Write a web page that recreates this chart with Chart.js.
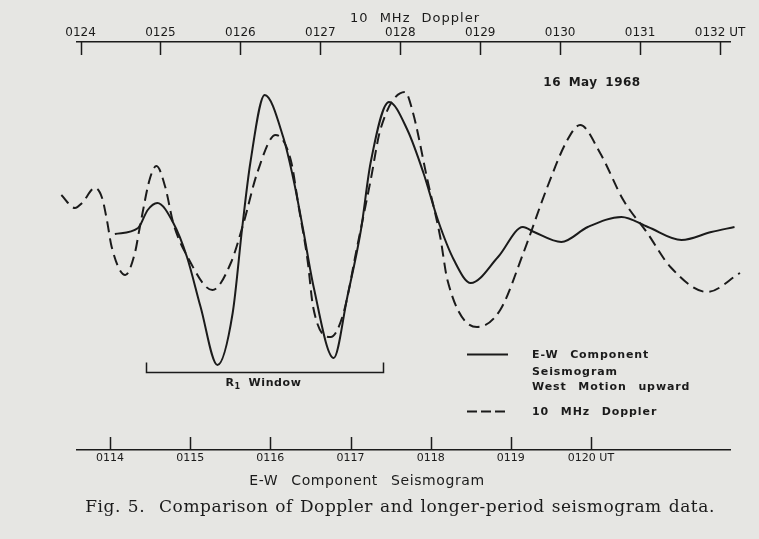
<!DOCTYPE html>
<html><head><meta charset="utf-8">
<script src="https://cdn.jsdelivr.net/npm/chart.js@4/dist/chart.umd.min.js"></script>
<style>
html,body{margin:0;padding:0;background:#e6e6e3;}
#wrap{width:759px;height:539px;position:relative;}
canvas{display:block;}
</style></head><body>
<div id="wrap"><canvas id="c" width="759" height="539"></canvas></div>
<script>
// 10 MHz Doppler — time in minutes after 0100 UT (top axis), relative amplitude
const dopplerTime = [123.76, 123.93, 124.02, 124.18, 124.27, 124.33, 124.39, 124.56, 124.68, 124.74, 124.87, 124.95, 125.06, 125.16, 125.34, 125.65, 125.88, 126.04, 126.21, 126.44, 126.63, 126.73, 126.84, 126.91, 127.13, 127.29, 127.46, 127.63, 127.75, 128.06, 128.16, 128.34, 128.50, 128.59, 128.96, 129.25, 129.54, 129.84, 130.09, 130.25, 130.50, 130.79, 131.09, 131.38, 131.84, 132.25];
const dopplerValue = [4.5, 3.2, 3.7, 5.2, 4.2, 2.0, -0.7, -3.5, -1.3, 1.2, 6.2, 7.4, 5.3, 1.7, -1.7, -5.0, -2.3, 1.7, 6.7, 10.5, 8.0, 3.3, -2.0, -6.7, -9.7, -7.3, -0.7, 6.0, 11.0, 14.8, 12.7, 6.0, 0.3, -4.0, -8.7, -7.0, -1.3, 5.3, 10.0, 11.5, 8.7, 4.0, 0.7, -2.7, -5.2, -3.3];

// E-W component seismogram — time in minutes after 0100 UT (bottom axis), relative amplitude
const seisTime = [114.06, 114.35, 114.47, 114.59, 114.79, 114.96, 115.13, 115.34, 115.53, 115.65, 115.75, 115.93, 116.16, 116.29, 116.41, 116.54, 116.79, 116.96, 117.13, 117.25, 117.48, 117.71, 117.91, 118.09, 118.29, 118.50, 118.84, 119.15, 119.29, 119.63, 119.96, 120.38, 120.71, 121.13, 121.50, 121.79];
const seisValue = [0.6, 1.2, 3.0, 3.7, 1.7, -1.7, -6.7, -12.5, -7.3, 1.3, 7.7, 14.5, 10.3, 6.0, 1.0, -4.7, -11.8, -5.7, 1.0, 7.7, 13.8, 11.0, 6.7, 2.0, -2.0, -4.3, -1.7, 1.3, 0.8, -0.2, 1.3, 2.3, 1.3, 0.0, 0.8, 1.3];

// Axis ticks
const dopplerTicks = [124, 125, 126, 127, 128, 129, 130, 131, 132];
const dopplerTickLabels = ['0124', '0125', '0126', '0127', '0128', '0129', '0130', '0131', '0132 UT'];
const seisTicks = [114, 115, 116, 117, 118, 119, 120];
const seisTickLabels = ['0114', '0115', '0116', '0117', '0118', '0119', '0120 UT'];

// R1 window (seismogram minutes)
const r1Window = [114.45, 117.4];

const INK = '#1b1b1b';
const PAPER = '#e6e6e3';

function txt(ctx, s, x, y, font, ls, ws, align) {
  ctx.save();
  ctx.font = font;
  ctx.fillStyle = INK;
  ctx.textBaseline = 'middle';
  ctx.textAlign = align || 'left';
  try { ctx.letterSpacing = (ls || 0) + 'px'; ctx.wordSpacing = (ws || 0) + 'px'; } catch (e) {}
  ctx.fillText(s, x, y);
  ctx.restore();
}

const paperPlugin = {
  id: 'paper',
  beforeDraw(chart) {
    const ctx = chart.ctx;
    ctx.save();
    ctx.fillStyle = PAPER;
    ctx.fillRect(0, 0, chart.width, chart.height);
    ctx.restore();
  }
};

const decorPlugin = {
  id: 'decor',
  afterDraw(chart) {
    const ctx = chart.ctx;
    const xs = chart.scales.x, xb = chart.scales.x2, y = chart.scales.y;
    ctx.save();
    ctx.strokeStyle = INK;
    ctx.lineWidth = 1.5;
    // inward tick marks, top axis
    xs.ticks.forEach(t => {
      const px = Math.round(xs.getPixelForValue(t.value)) + 0.5;
      ctx.beginPath(); ctx.moveTo(px, xs.bottom); ctx.lineTo(px, xs.bottom + 13); ctx.stroke();
    });
    // inward tick marks, bottom axis
    xb.ticks.forEach(t => {
      const px = Math.round(xb.getPixelForValue(t.value)) + 0.5;
      ctx.beginPath(); ctx.moveTo(px, xb.top); ctx.lineTo(px, xb.top - 13); ctx.stroke();
    });
    ctx.restore();

    // axis titles
    txt(ctx, '10 MHz Doppler', 415, 19, '13px "DejaVu Sans"', 1, 6, 'center');
    txt(ctx, 'E-W Component Seismogram', 367, 481, '14px "DejaVu Sans"', 0.6, 8, 'center');
    txt(ctx, '16 May 1968', 592, 83, 'bold 12px "DejaVu Sans"', 0.5, 3, 'center');

    // R1 window bracket
    const wl = Math.round(xb.getPixelForValue(r1Window[0])) + 0.5;
    const wr = Math.round(xb.getPixelForValue(r1Window[1])) + 0.5;
    const wy = Math.round(y.getPixelForValue(-13.2)) + 0.5;
    ctx.save();
    ctx.strokeStyle = INK; ctx.lineWidth = 1.5;
    ctx.beginPath();
    ctx.moveTo(wl, wy - 10); ctx.lineTo(wl, wy); ctx.lineTo(wr, wy); ctx.lineTo(wr, wy - 10);
    ctx.stroke();
    ctx.restore();
    const wc = xb.getPixelForValue(115.89);
    txt(ctx, 'R', wc - 36, wy + 11, 'bold 11px "DejaVu Sans"', 0, 0, 'left');
    txt(ctx, '1', wc - 27, wy + 14, 'bold 8px "DejaVu Sans"', 0, 0, 'left');
    txt(ctx, 'Window', wc - 13, wy + 11, 'bold 11px "DejaVu Sans"', 0.6, 0, 'left');

    // legend
    const ds = chart.data.datasets;
    ctx.save();
    ctx.strokeStyle = ds[1].borderColor; ctx.lineWidth = 2;
    ctx.beginPath(); ctx.moveTo(467, 354.5); ctx.lineTo(508, 354.5); ctx.stroke();
    ctx.setLineDash([10, 4]);
    ctx.strokeStyle = ds[0].borderColor;
    ctx.beginPath(); ctx.moveTo(467, 411.5); ctx.lineTo(506, 411.5); ctx.stroke();
    ctx.restore();
    const lf = 'bold 11px "DejaVu Sans"';
    txt(ctx, 'E-W Component', 532, 355, lf, 0.9, 7, 'left');
    txt(ctx, 'Seismogram', 532, 372, lf, 0.9, 7, 'left');
    txt(ctx, 'West Motion upward', 532, 387, lf, 0.9, 7, 'left');
    txt(ctx, '10 MHz Doppler', 532, 412, lf, 0.9, 7, 'left');

    // figure caption
    txt(ctx, 'Fig. 5.  Comparison of Doppler and longer-period seismogram data.', 400, 508,
        '17px "DejaVu Serif"', 0.55, 1, 'center');
  }
};

const doppler = dopplerTime.map((t, i) => ({ x: t, y: dopplerValue[i] }));
const seis = seisTime.map((t, i) => ({ x: t, y: seisValue[i] }));

new Chart(document.getElementById('c'), {
  type: 'line',
  data: {
    datasets: [
      { label: '10 MHz Doppler', data: doppler, xAxisID: 'x', yAxisID: 'y',
        borderColor: INK, borderWidth: 2, borderDash: [11, 6], pointRadius: 0,
        cubicInterpolationMode: 'monotone', fill: false, clip: false },
      { label: 'E-W Component Seismogram, West Motion upward', data: seis, xAxisID: 'x2', yAxisID: 'y',
        borderColor: INK, borderWidth: 2, pointRadius: 0,
        cubicInterpolationMode: 'monotone', fill: false, clip: false }
    ]
  },
  options: {
    responsive: false,
    animation: false,
    devicePixelRatio: 1,
    layout: { padding: { left: 77, right: 29, top: 0, bottom: 47 } },
    plugins: {
      legend: { display: false },
      tooltip: { enabled: false },
      title: { display: false }
    },
    scales: {
      x: {
        type: 'linear', position: 'top', bounds: 'data',
        afterDataLimits(s) { s.min = 123.956; s.max = 132.125; },
        afterBuildTicks(s) { s.ticks = dopplerTicks.map(v => ({ value: v })); },
        afterFit(s) { s.height = 42; },
        grid: { display: false, drawTicks: false },
        border: { display: true, color: INK, width: 1.5 },
        ticks: {
          padding: 2, color: INK, maxRotation: 0, autoSkip: false,
          font: { family: '"DejaVu Sans"', size: 12 },
          callback: (v, i) => dopplerTickLabels[i]
        }
      },
      x2: {
        type: 'linear', position: 'bottom', bounds: 'data',
        afterDataLimits(s) { s.min = 113.588; s.max = 121.734; },
        afterBuildTicks(s) { s.ticks = seisTicks.map(v => ({ value: v })); },
        afterFit(s) { s.height = 42; },
        grid: { display: false, drawTicks: false },
        border: { display: true, color: INK, width: 1.5 },
        ticks: {
          padding: 2, color: INK, maxRotation: 0, autoSkip: false,
          font: { family: '"DejaVu Sans"', size: 11 },
          callback: (v, i) => seisTickLabels[i]
        }
      },
      y: { type: 'linear', display: false, min: -21, max: 19.8 }
    }
  },
  plugins: [paperPlugin, decorPlugin]
});
</script>
</body></html>
